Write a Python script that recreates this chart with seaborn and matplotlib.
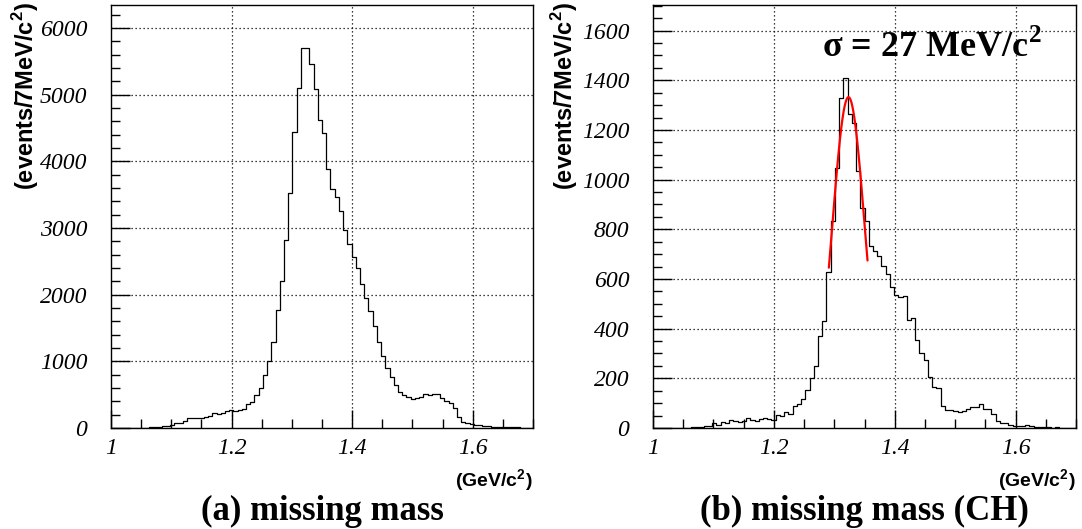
import numpy as np
import pandas as pd
import matplotlib
matplotlib.use("Agg")
import matplotlib.pyplot as plt
from matplotlib.ticker import MultipleLocator, FixedLocator
import seaborn as sns

# ---- binning: 7 MeV/c^2 bins between 1.0 and 1.7 GeV/c^2 ----
mass_lo = 1.0
mass_hi = 1.7
n_bins = 100

# events per bin, all targets (panel a)
counts_all = [
    0, 0, 0, 1, 1, 2, 2, 4, 6, 12,
    12, 20, 30, 32, 45, 70, 80, 105, 155, 145,
    145, 155, 170, 185, 220, 210, 230, 250, 270, 260,
    265, 285, 355, 390, 490, 600, 800, 1000, 1285, 1775,
    2200, 2825, 3525, 4435, 5100, 5700, 5700, 5460, 5085, 4615,
    4425, 3890, 3590, 3460, 3260, 2975, 2765, 2565, 2400, 2165,
    1950, 1750, 1525, 1285, 1075, 900, 770, 645, 545, 495,
    470, 430, 445, 470, 505, 495, 510, 505, 445, 410,
    370, 295, 170, 95, 80, 60, 45, 45, 30, 30,
    20, 20, 20, 20, 10, 10, 8, 6, 5, 5,
]

# events per bin, CH target (panel b)
counts_ch = [
    0, 0, 0, 0, 0, 0, 1, 1, 2, 3,
    4, 4, 7, 8, 20, 13, 24, 20, 33, 27,
    23, 29, 40, 33, 29, 36, 40, 36, 33, 54,
    47, 63, 55, 90, 97, 115, 155, 200, 250, 369,
    429, 630, 832, 1046, 1328, 1411, 1264, 1227, 1033, 885,
    832, 731, 711, 693, 651, 621, 567, 537, 526, 530,
    436, 443, 355, 302, 275, 206, 165, 163, 90, 71,
    71, 67, 66, 68, 76, 84, 83, 96, 76, 78,
    56, 27, 20, 20, 13, 9, 7, 9, 11, 7,
    4, 4, 5, 3, 2, 3, 2, 1, 2, 1,
]

# Gaussian fit to the CH peak
fit_mean = 1.3235
fit_sigma = 0.027          # GeV/c^2  (27 MeV/c^2)
fit_amp = 1332
fit_lo, fit_hi = 1.291, 1.355

x_ticks = [1.0, 1.2, 1.4, 1.6]
x_tick_labels = ["1", "1.2", "1.4", "1.6"]
y_ticks_all = [0, 1000, 2000, 3000, 4000, 5000, 6000]
y_ticks_ch = [0, 200, 400, 600, 800, 1000, 1200, 1400, 1600]

titles = ["(a) missing mass", "(b) missing mass (CH)"]

# ---- style ----
sns.set_style("white")
plt.rcParams["font.family"] = ["Liberation Sans", "DejaVu Sans"]
plt.rcParams["text.color"] = "black"
plt.rcParams["axes.labelcolor"] = "black"
plt.rcParams["xtick.color"] = "black"
plt.rcParams["ytick.color"] = "black"
plt.rcParams["mathtext.fontset"] = "custom"
plt.rcParams["mathtext.sf"] = "Liberation Sans:bold"
plt.rcParams["mathtext.bf"] = "Liberation Serif:bold"
plt.rcParams["mathtext.rm"] = "Liberation Serif"

W, H = 1082, 529
fig = plt.figure(figsize=(W / 100, H / 100), dpi=100)
fig.patch.set_facecolor("white")


def fx(px):
    return px / W


def fy(py):
    return 1 - py / H


axL = fig.add_axes([fx(111), fy(428), fx(422), 423 / H])
axR = fig.add_axes([fx(653), fy(428), fx(423), 423 / H])

bin_width = (mass_hi - mass_lo) / n_bins
centers = mass_lo + bin_width * (np.arange(n_bins) + 0.5)
df_all = pd.DataFrame({"mass": centers, "events": counts_all})
df_ch = pd.DataFrame({"mass": centers, "events": counts_ch})

tick_font = dict(family="Liberation Serif", style="italic", size=17, color="black")
grid_style = dict(color="black", linewidth=0.9, linestyle=(0, (1, 2.2)))


def style_axis(ax, yticks, ymax, yminor):
    ax.set_xlim(mass_lo, mass_hi)
    ax.set_ylim(0, ymax)
    ax.xaxis.set_major_locator(FixedLocator(x_ticks))
    ax.xaxis.set_minor_locator(MultipleLocator(0.05))
    ax.yaxis.set_major_locator(FixedLocator(yticks))
    ax.yaxis.set_minor_locator(MultipleLocator(yminor))
    ax.set_xticklabels(x_tick_labels, fontdict=tick_font)
    ax.set_yticklabels([str(v) for v in yticks], fontdict=tick_font)
    ax.tick_params(axis="x", which="major", direction="in", length=13, width=1,
                   pad=7, colors="black", bottom=True, top=False)
    ax.tick_params(axis="x", which="minor", direction="in", length=6.5, width=1,
                   colors="black", bottom=True, top=False)
    ax.tick_params(axis="y", which="major", direction="in", length=14, width=1,
                   pad=17, colors="black", left=True, right=False)
    ax.tick_params(axis="y", which="minor", direction="in", length=6.5, width=1,
                   colors="black", left=True, right=False)
    for s in ax.spines.values():
        s.set_color("black")
        s.set_linewidth(1.0)
        s.set_visible(True)
    ax.grid(False)
    for xv in x_ticks[1:]:
        ax.axvline(xv, zorder=1, **grid_style)
    for yv in yticks[1:]:
        ax.axhline(yv, zorder=1, **grid_style)
    ax.set_xlabel("")
    ax.set_ylabel("")
    ax.set_facecolor("white")


# panel (a)
sns.histplot(data=df_all, x="mass", weights="events", bins=n_bins,
             binrange=(mass_lo, mass_hi), element="step", fill=False,
             color="black", linewidth=0.9, ax=axL)
style_axis(axL, y_ticks_all, 6345, 200)

# panel (b)
sns.histplot(data=df_ch, x="mass", weights="events", bins=n_bins,
             binrange=(mass_lo, mass_hi), element="step", fill=False,
             color="black", linewidth=0.9, ax=axR)
fit_x = np.linspace(fit_lo, fit_hi, 80)
fit_y = fit_amp * np.exp(-0.5 * ((fit_x - fit_mean) / fit_sigma) ** 2)
sns.lineplot(x=fit_x, y=fit_y, color="red", linewidth=1.6, ax=axR)
style_axis(axR, y_ticks_ch, 1703, 50)

# axis titles
ylab = r"(events/7MeV/c$^{\mathsf{2}}$)"
for xc in (26, 565):
    fig.text(fx(xc), fy(2), ylab, rotation=90, ha="center", va="top",
             fontsize=17, fontweight="bold", family="Liberation Sans",
             color="black")
xlab = r"(GeV/c$^{\mathsf{2}}$)"
for xr in (533, 1076):
    fig.text(fx(xr), fy(481), xlab, ha="right", va="center",
             fontsize=14, fontweight="bold", family="Liberation Sans",
             color="black")

# panel captions
for xc, t in zip((322, 864), titles):
    fig.text(fx(xc), fy(511), t, ha="center", va="center",
             fontsize=25, fontweight="bold", family="Liberation Serif",
             color="black")

# fit width annotation
fig.text(fx(822), fy(57), r"σ = 27 MeV/c$^{\mathbf{2}}$", ha="left", va="baseline",
         fontsize=26, fontweight="bold", family="Liberation Serif", color="black")

fig.savefig("out.png", dpi=100, facecolor="white")
